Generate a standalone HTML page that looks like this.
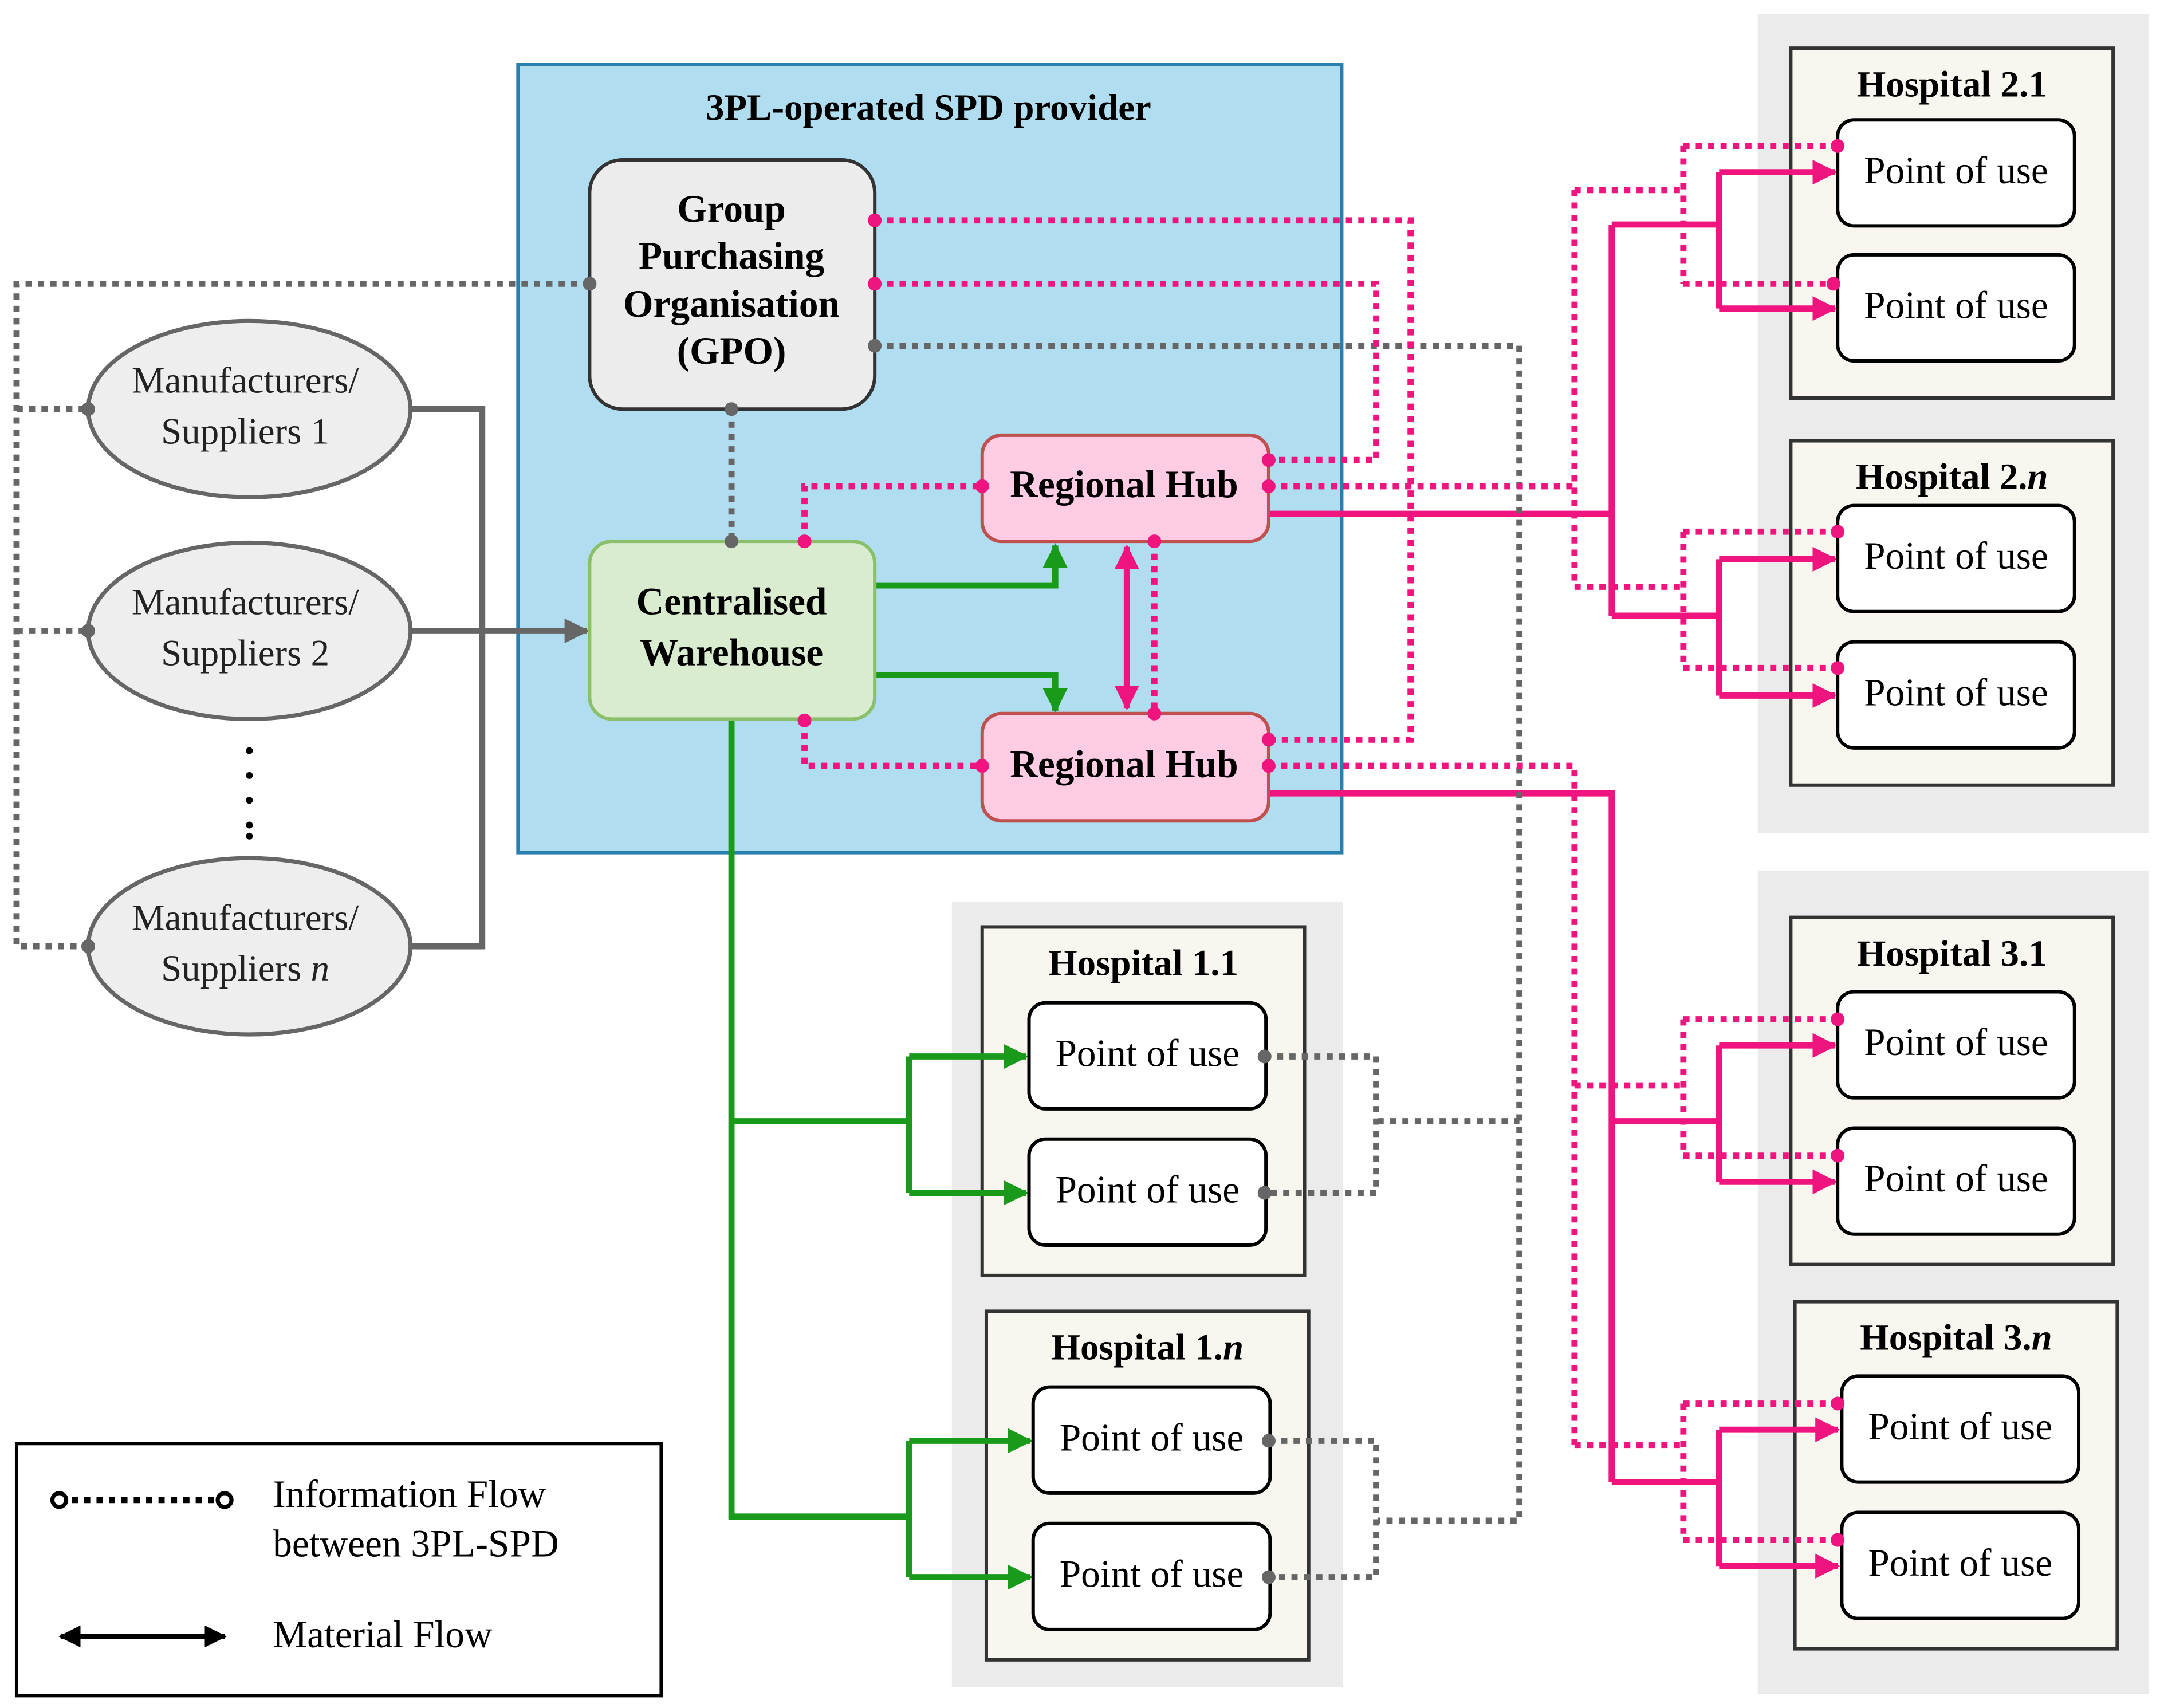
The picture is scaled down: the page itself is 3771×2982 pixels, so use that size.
<!DOCTYPE html>
<html><head><meta charset="utf-8"><style>html,body{margin:0;padding:0;background:#fff}svg{display:block}</style></head>
<body>
<svg xmlns="http://www.w3.org/2000/svg" width="3771" height="2982" viewBox="0 0 1568 1240" font-family="'Liberation Serif', serif">
<defs>
<marker id="ag" viewBox="0 0 10 10" refX="9" refY="5" markerWidth="4" markerHeight="4" orient="auto"><path d="M0,0L10,5L0,10z" fill="#1a9a1a"/></marker>
<marker id="ap" viewBox="0 0 10 10" refX="9" refY="5" markerWidth="4" markerHeight="4" orient="auto"><path d="M0,0L10,5L0,10z" fill="#f0147f"/></marker>
<marker id="aps" viewBox="0 0 10 10" refX="1" refY="5" markerWidth="4" markerHeight="4" orient="auto"><path d="M10,0L0,5L10,10z" fill="#f0147f"/></marker>
<marker id="ay" viewBox="0 0 10 10" refX="9" refY="5" markerWidth="4" markerHeight="4" orient="auto"><path d="M0,0L10,5L0,10z" fill="#666"/></marker>
<marker id="ak" viewBox="0 0 10 10" refX="9" refY="5" markerWidth="4" markerHeight="4" orient="auto"><path d="M0,0L10,5L0,10z" fill="#000"/></marker>
<marker id="aks" viewBox="0 0 10 10" refX="1" refY="5" markerWidth="4" markerHeight="4" orient="auto"><path d="M10,0L0,5L10,10z" fill="#000"/></marker>
</defs>

<rect x="1276" y="10" width="284" height="595" fill="#ebebeb"/>
<rect x="1276" y="632" width="284" height="598" fill="#ebebeb"/>
<rect x="691" y="655" width="284" height="570" fill="#ebebeb"/>

<rect x="376" y="47" width="598" height="572" fill="#b0ddef" stroke="#2a7fae" stroke-width="2.5"/>
<text x="674" y="87" font-size="27" font-weight="bold" text-anchor="middle">3PL-operated SPD provider</text>

<g fill="#f8f6ee" stroke="#333" stroke-width="2.5">
<rect x="1300" y="35" width="234" height="254"/>
<rect x="1300" y="320" width="234" height="250"/>
<rect x="1300" y="666" width="234" height="252"/>
<rect x="1303" y="945" width="234" height="252"/>
<rect x="713" y="673" width="234" height="253"/>
<rect x="716" y="952" width="234" height="253"/>
</g>
<g font-size="27" font-weight="bold" text-anchor="middle">
<text x="1417" y="70">Hospital 2.1</text><text x="1417" y="355">Hospital 2.<tspan font-style="italic">n</tspan></text>
<text x="1417" y="701">Hospital 3.1</text><text x="1420" y="980">Hospital 3.<tspan font-style="italic">n</tspan></text>
<text x="830" y="708">Hospital 1.1</text><text x="833" y="987">Hospital 1.<tspan font-style="italic">n</tspan></text>
</g>

<g fill="none" stroke-width="4.5">
<path d="M298,297H350V687H298" stroke="#666"/>
<path d="M298,458H426" stroke="#666" marker-end="url(#ay)"/>
<path d="M635,425H766V396" stroke="#1a9a1a" marker-end="url(#ag)"/>
<path d="M635,490H766V516" stroke="#1a9a1a" marker-end="url(#ag)"/>
<path d="M531,522V1101H660M531,814H660M660,767V866M660,1046V1145" stroke="#1a9a1a"/>
<g stroke="#1a9a1a" marker-end="url(#ag)">
<path d="M660,767H745"/><path d="M660,866H745"/><path d="M660,1046H748"/><path d="M660,1145H748"/>
</g>
<path d="M818,397V514" stroke="#f0147f" marker-start="url(#aps)" marker-end="url(#ap)"/>
<path d="M921,373H1170M1170,163V447M1170,163H1248M1170,447H1248M1248,125V224M1248,406V505" stroke="#f0147f"/>
<path d="M921,576H1170V1076M1170,814H1248M1170,1076H1248M1248,759V858M1248,1038V1137" stroke="#f0147f"/>
<g stroke="#f0147f" marker-end="url(#ap)">
<path d="M1248,125H1332"/><path d="M1248,224H1332"/><path d="M1248,406H1332"/><path d="M1248,505H1332"/>
<path d="M1248,759H1332"/><path d="M1248,858H1332"/><path d="M1248,1038H1334"/><path d="M1248,1137H1334"/>
</g>
</g>

<g fill="none" stroke-width="4.5" stroke-dasharray="4.5 4.5">
<path d="M428,206H12V687H64M12,297H64M12,458H64" stroke="#666"/>
<path d="M531,297V393" stroke="#666"/>
<path d="M635,251H1103V1104H1000M1000,814H1103" stroke="#666"/>
<path d="M918,767H999V866H918M921,1046H999V1145H921" stroke="#666"/>
<path d="M584,393V353H713M584,523V556H713M838,393V518" stroke="#f0147f"/>
<path d="M635,160H1024V537H921M635,206H999V334H921" stroke="#f0147f"/>
<path d="M921,353H1143M1143,138V426M1143,138H1222M1143,426H1222M1222,106V206M1222,386V485M1222,106H1334M1222,206H1331M1222,386H1334M1222,485H1334" stroke="#f0147f"/>
<path d="M921,556H1143V1049M1143,788H1222M1143,1049H1222M1222,740V839M1222,1019V1118M1222,740H1334M1222,839H1334M1222,1019H1334M1222,1118H1334" stroke="#f0147f"/>
</g>

<g fill="#fff" stroke="#000" stroke-width="2.5">
<rect x="1334" y="87" width="172" height="77" rx="12"/><rect x="1334" y="185" width="172" height="77" rx="12"/>
<rect x="1334" y="367" width="172" height="77" rx="12"/><rect x="1334" y="466" width="172" height="77" rx="12"/>
<rect x="1334" y="720" width="172" height="77" rx="12"/><rect x="1334" y="819" width="172" height="77" rx="12"/>
<rect x="1337" y="999" width="172" height="77" rx="12"/><rect x="1337" y="1098" width="172" height="77" rx="12"/>
<rect x="747" y="728" width="172" height="77" rx="12"/><rect x="747" y="827" width="172" height="77" rx="12"/>
<rect x="750" y="1007" width="172" height="77" rx="12"/><rect x="750" y="1106" width="172" height="77" rx="12"/>
</g>
<g font-size="28" text-anchor="middle">
<text x="1420" y="133">Point of use</text><text x="1420" y="231">Point of use</text>
<text x="1420" y="413">Point of use</text><text x="1420" y="512">Point of use</text>
<text x="1420" y="766">Point of use</text><text x="1420" y="865">Point of use</text>
<text x="1423" y="1045">Point of use</text><text x="1423" y="1144">Point of use</text>
<text x="833" y="774">Point of use</text><text x="833" y="873">Point of use</text>
<text x="836" y="1053">Point of use</text><text x="836" y="1152">Point of use</text>
</g>

<g fill="#eeeeee" stroke="#666" stroke-width="3">
<ellipse cx="181" cy="297" rx="117" ry="64"/>
<ellipse cx="181" cy="458" rx="117" ry="64"/>
<ellipse cx="181" cy="687" rx="117" ry="64"/>
</g>
<g font-size="27" text-anchor="middle" fill="#222">
<text x="178" y="285">Manufacturers/</text><text x="178" y="322">Suppliers 1</text>
<text x="178" y="446">Manufacturers/</text><text x="178" y="483">Suppliers 2</text>
<text x="178" y="675">Manufacturers/</text><text x="178" y="712">Suppliers <tspan font-style="italic">n</tspan></text>
</g>
<g fill="#000"><circle cx="181" cy="545" r="2.5"/><circle cx="181" cy="563" r="2.5"/><circle cx="181" cy="581" r="2.5"/><circle cx="181" cy="599" r="2.5"/><circle cx="181" cy="607" r="2.5"/></g>

<rect x="428" y="116" width="207" height="181" rx="24" fill="#ececec" stroke="#333" stroke-width="2.5"/>
<g font-size="28" font-weight="bold" text-anchor="middle">
<text x="531" y="161">Group</text><text x="531" y="195">Purchasing</text><text x="531" y="230">Organisation</text><text x="531" y="264">(GPO)</text>
</g>
<rect x="428" y="393" width="207" height="129" rx="16" fill="#d9ecd0" stroke="#8ac06a" stroke-width="2.5"/>
<g font-size="28" font-weight="bold" text-anchor="middle"><text x="531" y="446">Centralised</text><text x="531" y="483">Warehouse</text></g>
<rect x="713" y="316" width="208" height="77" rx="14" fill="#ffcce4" stroke="#c0504d" stroke-width="2.5"/>
<rect x="713" y="518" width="208" height="78" rx="14" fill="#ffcce4" stroke="#c0504d" stroke-width="2.5"/>
<g font-size="28" font-weight="bold" text-anchor="middle"><text x="816" y="361">Regional Hub</text><text x="816" y="564">Regional Hub</text></g>

<g fill="#f0147f">
<circle cx="635" cy="160" r="5"/><circle cx="635" cy="206" r="5"/>
<circle cx="584" cy="393" r="5"/><circle cx="584" cy="523" r="5"/>
<circle cx="713" cy="353" r="5"/><circle cx="713" cy="556" r="5"/>
<circle cx="838" cy="393" r="5"/><circle cx="838" cy="518" r="5"/>
<circle cx="921" cy="334" r="5"/><circle cx="921" cy="353" r="5"/>
<circle cx="921" cy="537" r="5"/><circle cx="921" cy="556" r="5"/>
<circle cx="1334" cy="106" r="5"/><circle cx="1331" cy="206" r="5"/>
<circle cx="1334" cy="386" r="5"/><circle cx="1334" cy="485" r="5"/>
<circle cx="1334" cy="740" r="5"/><circle cx="1334" cy="839" r="5"/>
<circle cx="1334" cy="1019" r="5"/><circle cx="1334" cy="1118" r="5"/>
</g>
<g fill="#666">
<circle cx="428" cy="206" r="5"/><circle cx="635" cy="251" r="5"/>
<circle cx="531" cy="297" r="5"/><circle cx="531" cy="393" r="5"/>
<circle cx="64" cy="297" r="5"/><circle cx="64" cy="458" r="5"/><circle cx="64" cy="687" r="5"/>
<circle cx="918" cy="767" r="5"/><circle cx="918" cy="866" r="5"/>
<circle cx="921" cy="1046" r="5"/><circle cx="921" cy="1145" r="5"/>
</g>

<rect x="12" y="1048" width="468" height="183" fill="#fff" stroke="#000" stroke-width="2.5"/>
<path d="M43,1089H163" stroke="#000" stroke-width="4.5" stroke-dasharray="4.5 4.5" fill="none"/>
<circle cx="43" cy="1089" r="5" fill="#fff" stroke="#000" stroke-width="3"/>
<circle cx="163" cy="1089" r="5" fill="#fff" stroke="#000" stroke-width="3"/>
<path d="M44,1188H163" stroke="#000" stroke-width="4" marker-start="url(#aks)" marker-end="url(#ak)"/>
<g font-size="28"><text x="198" y="1094">Information Flow</text><text x="198" y="1130">between 3PL-SPD</text><text x="198" y="1196">Material Flow</text></g>
</svg>
</body></html>
